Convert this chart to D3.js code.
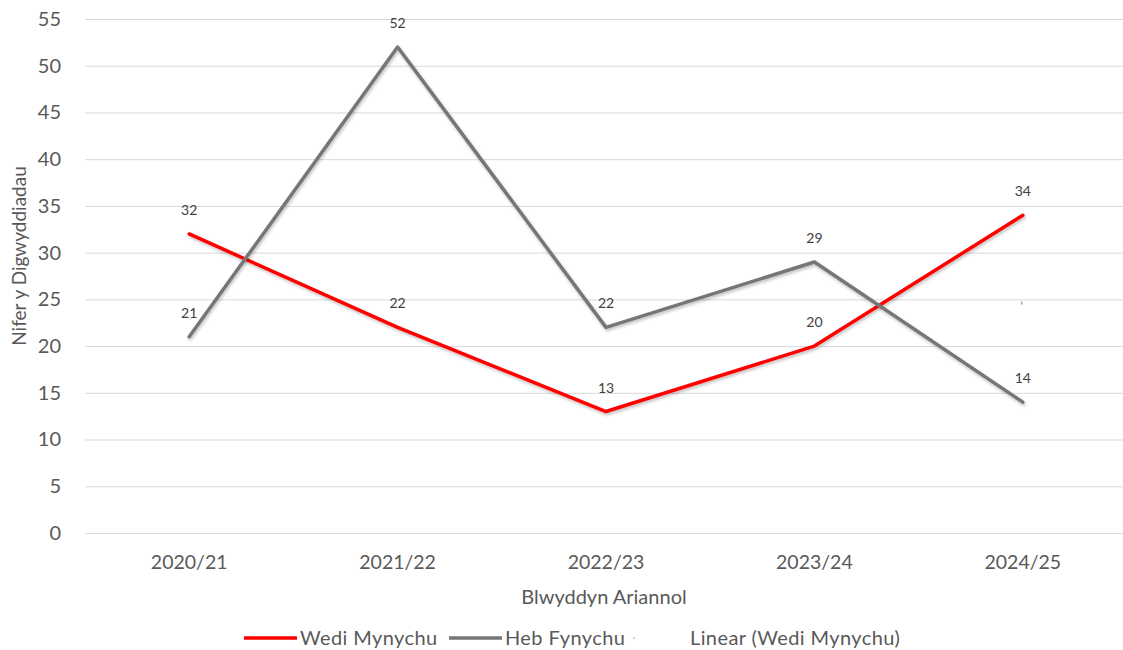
<!DOCTYPE html>
<html>
<head>
<meta charset="utf-8">
<script src="https://cdn.jsdelivr.net/npm/d3@7"></script>
<style>
  body { margin: 0; background: #fff; }
  svg { display: block; font-family: Lato, "Open Sans", sans-serif; }
</style>
</head>
<body>
<div id="chart"></div>
<script>
const years = ['2020/21', '2021/22', '2022/23', '2023/24', '2024/25'];
const wediMynychu = [32, 22, 13, 20, 34];
const hebFynychu = [21, 52, 22, 29, 14];
const yTicks = [0, 5, 10, 15, 20, 25, 30, 35, 40, 45, 50, 55];

const width = 1123;
const height = 650;
const margin = { top: 19, right: -4, bottom: 117, left: 85 };
const textColor = '#595959';

const svg = d3
  .select('#chart')
  .append('svg')
  .attr('width', width)
  .attr('height', height);

const defs = svg.append('defs');
const shadow = defs
  .append('filter')
  .attr('id', 'shadow')
  .attr('x', '-5%')
  .attr('y', '-5%')
  .attr('width', '110%')
  .attr('height', '120%');
shadow
  .append('feDropShadow')
  .attr('dx', 1)
  .attr('dy', 2)
  .attr('stdDeviation', 1.5)
  .attr('flood-color', '#000')
  .attr('flood-opacity', 0.25);

const x = d3
  .scaleBand()
  .domain(years)
  .range([margin.left, width - margin.right]);

const y = d3
  .scaleLinear()
  .domain([0, 55])
  .range([height - margin.bottom, margin.top]);

const xc = d => x(d) + x.bandwidth() / 2;

// gridlines + y labels
svg
  .append('g')
  .attr('transform', `translate(${margin.left}, 0)`)
  .call(
    d3
      .axisLeft(y)
      .tickValues(yTicks)
      .tickSize(-(width - margin.right - margin.left))
      .tickPadding(24)
  )
  .call(g => g.select('.domain').remove())
  .call(g => g.selectAll('.tick line').attr('stroke', '#d9d9d9').attr('stroke-width', 1))
  .call(g =>
    g
      .selectAll('.tick text')
      .attr('fill', textColor)
      .style('font-size', '20px')
      .style('font-family', 'Lato, sans-serif')
  );

// x labels
svg
  .append('g')
  .attr('transform', `translate(0, ${height - margin.bottom})`)
  .call(d3.axisBottom(x).tickSize(0).tickPadding(22))
  .call(g => g.select('.domain').remove())
  .call(g =>
    g
      .selectAll('.tick text')
      .attr('fill', textColor)
      .style('font-size', '19.5px')
      .style('font-family', 'Lato, sans-serif')
  );

// axis titles
svg
  .append('text')
  .attr('x', 604)
  .attr('y', 604)
  .attr('text-anchor', 'middle')
  .attr('fill', textColor)
  .style('font-size', '20px')
  .text('Blwyddyn Ariannol');

svg
  .append('text')
  .attr('transform', 'translate(26, 256) rotate(-90)')
  .attr('text-anchor', 'middle')
  .attr('fill', textColor)
  .style('font-size', '19px')
  .text('Nifer y Digwyddiadau');

const series = [
  { name: 'Wedi Mynychu', values: wediMynychu, color: '#ff0000' },
  { name: 'Heb Fynychu', values: hebFynychu, color: '#767676' }
];

const line = d3
  .line()
  .x((d, i) => xc(years[i]))
  .y(d => y(d));

series.forEach(s => {
  svg
    .append('path')
    .datum(s.values)
    .attr('fill', 'none')
    .attr('stroke', s.color)
    .attr('stroke-width', 3.5)
    .attr('stroke-linejoin', 'round')
    .attr('stroke-linecap', 'round')
    .attr('filter', 'url(#shadow)')
    .attr('d', line);
});

// data labels
series.forEach(s => {
  svg
    .append('g')
    .selectAll('text')
    .data(s.values)
    .join('text')
    .attr('x', (d, i) => xc(years[i]))
    .attr('y', d => y(d) - 19)
    .attr('text-anchor', 'middle')
    .attr('fill', '#404040')
    .style('font-size', '14px')
    .text(d => d);
});

// linear trend (Wedi Mynychu) — only its end is visible in the original
const idx = wediMynychu.map((d, i) => i + 1);
const mx = d3.mean(idx);
const my = d3.mean(wediMynychu);
const slope =
  d3.sum(idx, (v, i) => (v - mx) * (wediMynychu[i] - my)) /
  d3.sum(idx, v => (v - mx) * (v - mx));
const trendEnd = my + slope * (idx[idx.length - 1] - mx);
svg
  .append('line')
  .attr('x1', xc(years[years.length - 1]) - 1)
  .attr('x2', xc(years[years.length - 1]) - 1)
  .attr('y1', y(trendEnd) - 1.5)
  .attr('y2', y(trendEnd) + 1.5)
  .attr('stroke', '#808080')
  .attr('stroke-width', 1);

// legend
const legend = svg.append('g').attr('transform', 'translate(0, 638)');
const legendItems = [
  { label: 'Wedi Mynychu', color: '#ff0000', x1: 244, x2: 297, tx: 300 },
  { label: 'Heb Fynychu', color: '#767676', x1: 449, x2: 502, tx: 505 }
];
legendItems.forEach(it => {
  legend
    .append('line')
    .attr('x1', it.x1)
    .attr('x2', it.x2)
    .attr('stroke', it.color)
    .attr('stroke-width', 3.5);
  legend
    .append('text')
    .attr('x', it.tx)
    .attr('dy', '0.35em')
    .attr('fill', textColor)
    .style('font-size', '20px')
    .style('letter-spacing', '0.4px')
    .text(it.label);
});
legend
  .append('line')
  .attr('x1', 634)
  .attr('x2', 634)
  .attr('y1', -1)
  .attr('y2', 1)
  .attr('stroke', '#a0a0a0')
  .attr('stroke-width', 1);
legend
  .append('text')
  .attr('x', 690)
  .attr('dy', '0.35em')
  .attr('fill', textColor)
  .style('font-size', '20px')
  .style('letter-spacing', '0.4px')
  .text('Linear (Wedi Mynychu)');
</script>
</body>
</html>
